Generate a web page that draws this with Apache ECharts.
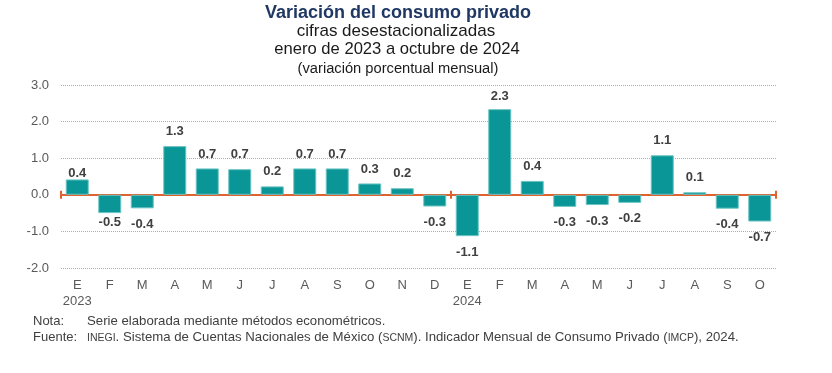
<!DOCTYPE html>
<html><head><meta charset="utf-8">
<script src="https://cdn.jsdelivr.net/npm/echarts@6/dist/echarts.min.js"></script>
<style>html,body{margin:0;padding:0;background:#fff}#c{width:832px;height:373px}</style>
</head><body><div id="c"></div>
<script>
const months = ['E','F','M','A','M','J','J','A','S','O','N','D','E','F','M','A','M','J','J','A','S','O'];
const years = ['2023','','','','','','','','','','','','2024','','','','','','','','',''];
const values = [0.42,-0.50,-0.37,1.33,0.72,0.70,0.23,0.72,0.72,0.31,0.18,-0.32,-1.13,2.34,0.38,-0.33,-0.28,-0.22,1.08,0.07,-0.38,-0.73];
const yTicks = [-2,-1,0,1,2,3];
const titleText = 'Variación del consumo privado';
const subtitleLines = ['cifras desestacionalizadas','enero de 2023 a octubre de 2024','(variación porcentual mensual)'];
const notaText = 'Serie elaborada mediante métodos econométricos.';
// [text, smallCaps]
const fuentePieces = [['INEGI',true],['. Sistema de Cuentas Nacionales de México (',false],['SCNM',true],
  ['). Indicador Mensual de Consumo Privado (',false],['IMCP',true],['), 2024.',false]];

// label placement tweaks (style only)
const labelDistance = {pos:8, neg:9.5, overrides:{0:0,1:3,13:6}};

const chart = echarts.init(document.getElementById('c'));
const font = 'Liberation Sans, Arial, sans-serif';
const cats = months.map((m,i)=>m+'|'+years[i]);
const tickFn = (i)=>i===0||i===12;

const ctx = document.createElement('canvas').getContext('2d');
const fuenteGraphics = [];
let fx = 87;
fuentePieces.forEach(([t,small])=>{
  const f = (small?'10.5px ':'13.2px ')+font;
  ctx.font = f;
  fuenteGraphics.push({type:'text',style:{text:t,font:f,fill:'#404040',x:fx,y:344,verticalAlign:'bottom'}});
  fx += ctx.measureText(t).width;
});

chart.setOption({
  animation:false,
  textStyle:{fontFamily:font},
  grid:{left:61,right:56,top:85,bottom:105,containLabel:false},
  graphic:[
    {type:'text',style:{text:titleText,font:'bold 18px '+font,fill:'#1F3864',x:398,y:4,align:'center'}},
    {type:'text',style:{text:subtitleLines[0],font:'17px '+font,fill:'#1a1a1a',x:396,y:23,align:'center'}},
    {type:'text',style:{text:subtitleLines[1],font:'16.6px '+font,fill:'#1a1a1a',x:397,y:41,align:'center'}},
    {type:'text',style:{text:subtitleLines[2],font:'14.7px '+font,fill:'#1a1a1a',x:398,y:61,align:'center'}},
    {type:'text',style:{text:'Nota:',font:'13px '+font,fill:'#404040',x:33,y:328,verticalAlign:'bottom'}},
    {type:'text',style:{text:notaText,font:'13.2px '+font,fill:'#404040',x:87,y:328,verticalAlign:'bottom'}},
    {type:'text',style:{text:'Fuente:',font:'13px '+font,fill:'#404040',x:33,y:344,verticalAlign:'bottom'}}
  ].concat(fuenteGraphics),
  yAxis:[
    {type:'value',min:yTicks[0],max:yTicks[yTicks.length-1],interval:1,
     axisLine:{show:false},axisTick:{show:false},
     axisLabel:{color:'#595959',fontSize:13,fontFamily:font,margin:12,formatter:v=>v.toFixed(1)},
     splitLine:{lineStyle:{type:'dotted',color:'#a3afc0',width:1}}},
    {type:'value',min:yTicks[0],max:yTicks[yTicks.length-1],interval:1,show:false,splitLine:{show:false}}
  ],
  xAxis:[
    {type:'category',data:cats,position:'bottom',
     axisLine:{onZero:true,onZeroAxisIndex:0,lineStyle:{color:'#E0622E',width:2}},
     axisTick:{show:true,length:4,lineStyle:{color:'#E0622E',width:2},interval:tickFn},
     axisLabel:{show:false}},
    {type:'category',data:cats,position:'top',
     axisLine:{onZero:true,onZeroAxisIndex:1,lineStyle:{color:'#E0622E',width:2}},
     axisTick:{show:true,length:4,lineStyle:{color:'#E0622E',width:2},interval:tickFn},
     axisLabel:{show:false}},
    {type:'category',data:cats,position:'bottom',axisLine:{show:false,onZero:false},axisTick:{show:false},
     axisLabel:{margin:9,interval:0,color:'#595959',fontSize:13,fontFamily:font,lineHeight:16,
       formatter:v=>{const p=v.split('|');return p[1]?p[0]+'\n'+p[1]:p[0];}}}
  ],
  series:[{type:'bar',xAxisIndex:0,yAxisIndex:0,barWidth:23,z:1,
    itemStyle:{color:'#0A9696',borderColor:'#6cc4c4',borderWidth:1},
    data:values.map((v,i)=>({value:v,label:{position:v>=0?'top':'bottom',
      distance:(i in labelDistance.overrides)?labelDistance.overrides[i]:(v>=0?labelDistance.pos:labelDistance.neg)}})),
    label:{show:true,color:'#404040',fontWeight:'bold',fontSize:13,fontFamily:font,
      formatter:p=>p.value.toFixed(1)}}]
});
</script></body></html>
